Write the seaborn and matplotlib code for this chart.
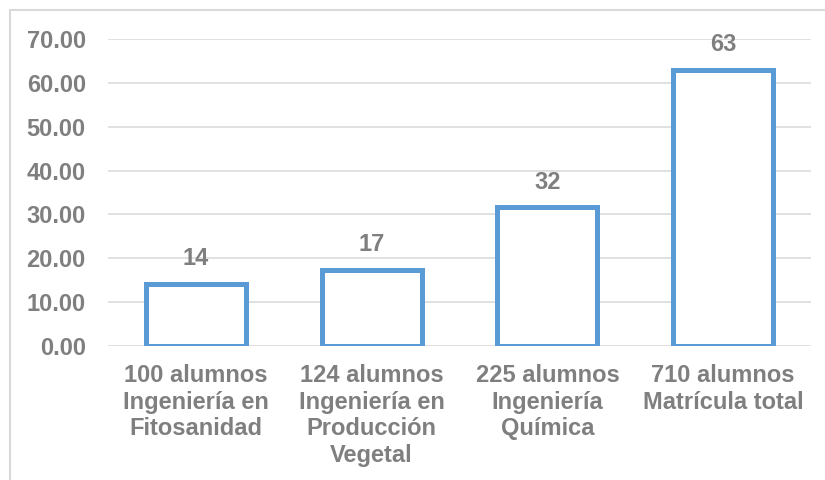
"""
Bar chart: alumnos por carrera (porcentaje)
"""
import matplotlib
matplotlib.use('Agg')
import matplotlib.pyplot as plt
from matplotlib.lines import Line2D
import seaborn as sns

# datos
categorias = [
    '100 alumnos\nIngeniería en\nFitosanidad',
    '124 alumnos\nIngeniería en\nProducción\nVegetal',
    '225 alumnos\nIngeniería\nQuímica',
    '710 alumnos\nMatrícula total',
]
valores = [14.1, 17.4, 31.6, 63.0]
yticks = [0, 10, 20, 30, 40, 50, 60, 70]

GRIS = '#7F7F7F'
AZUL = '#5B9BD5'

sns.set_theme(style='white')
plt.rcParams['font.family'] = ['Liberation Sans', 'DejaVu Sans']
plt.rcParams['font.weight'] = 'bold'

fig = plt.figure(figsize=(8.25, 4.8), dpi=100)
ax = fig.add_axes([108 / 825, 1 - 346 / 480, 703 / 825, 307 / 480])

sns.barplot(x=categorias, y=valores, color='white', saturation=1,
            edgecolor=AZUL, linewidth=3.6, width=0.57, ax=ax, zorder=3)

ax.set_ylim(0, 70)
ax.set_xlim(-0.5, 3.5)
ax.set_yticks(yticks)
ax.set_yticklabels([f'{v:.2f}' for v in yticks])
ax.yaxis.grid(True, color='#D9D9D9', linewidth=1.1, zorder=0)
ax.set_axisbelow(True)
for s in ax.spines.values():
    s.set_visible(False)
ax.tick_params(axis='y', length=0, pad=16, labelsize=17, labelcolor=GRIS)
ax.tick_params(axis='x', length=0, pad=13, labelsize=17, labelcolor=GRIS)
for t in ax.get_xticklabels() + ax.get_yticklabels():
    t.set_fontweight('bold')
for t in ax.get_xticklabels():
    t.set_linespacing(1.2)
ax.set_xlabel('')
ax.set_ylabel('')

# etiquetas de valor
for i, v in enumerate(valores):
    ax.annotate(f'{v:.0f}', (i, v), xytext=(0, 10), textcoords='offset points',
                ha='center', va='bottom', fontsize=17, fontweight='bold',
                color=GRIS)

# borde del área del gráfico
fig.add_artist(Line2D([10 / 825, 1.0], [1 - 10 / 480] * 2,
                      transform=fig.transFigure, color='#D9D9D9', linewidth=1.5))
fig.add_artist(Line2D([10 / 825] * 2, [0.0, 1 - 10 / 480],
                      transform=fig.transFigure, color='#D9D9D9', linewidth=1.5))

fig.savefig('out.png', dpi=100)
